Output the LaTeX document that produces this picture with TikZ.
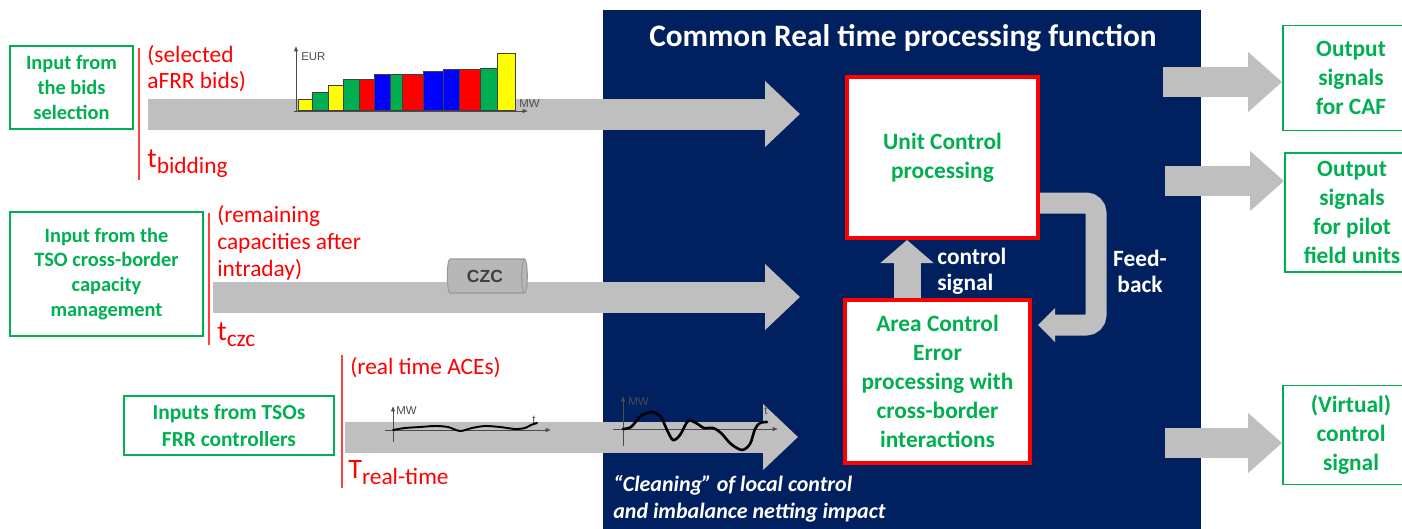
\documentclass[tikz,border=0pt]{standalone}
\usepackage{fontspec}
\setmainfont{Carlito}
\newfontfamily\arialf{Liberation Sans}
\usetikzlibrary{arrows.meta,shapes.geometric}
\definecolor{navy}{RGB}{0,32,96}
\definecolor{grn}{RGB}{0,176,80}
\definecolor{rd}{RGB}{255,0,0}
\definecolor{gry}{RGB}{191,191,191}
\definecolor{bblue}{RGB}{0,0,255}
\definecolor{bgreen}{RGB}{0,176,80}
\definecolor{byellow}{RGB}{255,255,0}
\definecolor{bred}{RGB}{255,0,0}
\begin{document}
\begin{tikzpicture}[x=0.02cm,y=-0.02cm,
  gbox/.style={draw=grn, line width=1.1pt, text=grn, align=center, inner sep=0pt,
    font=\bfseries\fontsize{11.6}{14.2}\selectfont},
  obox/.style={gbox, font=\bfseries\fontsize{13.3}{16.4}\selectfont},
  rbox/.style={draw=rd, line width=2.3pt, fill=white, text=grn, align=center, inner sep=0pt,
    font=\bfseries\fontsize{13.3}{16.4}\selectfont},
  redtxt/.style={text=rd, align=left, anchor=west, inner sep=0pt,
    font=\fontsize{13.3}{15.2}\selectfont},
  wtxt/.style={text=white, inner sep=0pt, font=\bfseries\fontsize{13.3}{14.8}\selectfont},
  bigarrow/.style={draw=gry, line width=0.62cm, -{Triangle[width=1.28cm,length=0.7cm]}},
  outarrow/.style={draw=gry, line width=0.6cm, -{Triangle[width=1.16cm,length=0.68cm]}},
  carrow/.style={draw=gry, line width=0.54cm, -{Triangle[width=1.04cm,length=0.46cm]}},
  fbarrow/.style={draw=gry, line width=0.42cm, rounded corners=0.2cm, -{Triangle[width=0.66cm,length=0.34cm]}},
  redline/.style={draw=rd!75, line width=0.9pt},
  bar/.style={draw=black!75, line width=0.3pt},
  axis/.style={draw=black!70, line width=0.4pt, -{Latex[length=3pt,width=2.5pt]}},
  tiny/.style={inner sep=0pt, text=black!70, font=\arialf\fontsize{6.5}{7}\selectfont},
  curve/.style={draw=black, line width=1.3pt, line cap=round, line join=round}
]
\useasboundingbox (0,0) rectangle (1402,528);
\clip (0,0) rectangle (1402,528);

% panel
\node[fill=navy, inner sep=0pt, minimum width=11.96cm, minimum height=10.4cm, anchor=north west] (panel) at (603,10) {};
\node[text=white, inner sep=0pt, font=\bfseries\fontsize{17.8}{20}\selectfont] (title) at (903,38) {Common Real time processing function};

% input boxes
\node[gbox, minimum width=2.46cm, minimum height=1.66cm] (in1) at (71.5,87.5) {Input from\\the bids\\selection};
\node[gbox, minimum width=3.86cm, minimum height=2.48cm] (in2) at (106.5,274) {Input from the\\TSO cross-border\\capacity\\management};
\node[gbox, minimum width=4.2cm, minimum height=1.18cm, font=\bfseries\fontsize{12.2}{15.3}\selectfont] (in3) at (229,425.5) {Inputs from TSOs\\FRR controllers};

% output boxes
\node[obox, minimum width=2.72cm, minimum height=2.1cm] (out1) at (1351,78) {Output\\signals\\for CAF};
\node[obox, minimum width=2.68cm, minimum height=2.38cm] (out2) at (1352,212.5) {Output\\signals\\for pilot\\field units};
\node[obox, minimum width=2.72cm, minimum height=1.98cm] (out3) at (1351,435) {(Virtual)\\control\\signal};

% red vertical lines
\draw[redline] (139,48) -- (139,180);
\draw[redline] (209,213) -- (209,345);
\draw[redline] (342,355) -- (342,488);

% input arrows
\coordinate (i1s) at (148,114);
\coordinate (i1e) at (800,114);
\coordinate (i2s) at (213,297);
\coordinate (i2e) at (800,297);
\coordinate (i3s) at (345,437);
\coordinate (i3e) at (798,437);
\draw[bigarrow] (i1s) -- (i1e);
\draw[bigarrow] (i2s) -- (i2e);
\draw[bigarrow] (i3s) -- (i3e);

% red labels
\node[redtxt] (r1) at (147,68.5) {(selected\\aFRR bids)};
\node[redtxt, anchor=base west] (t1) at (147,167) {{\fontsize{16}{16}\selectfont t}\raisebox{-3.5pt}{bidding}};
\node[redtxt] (r2) at (217,243) {(remaining\\capacities after\\intraday)};
\node[redtxt, anchor=base west] (t2) at (217,340) {{\fontsize{16}{16}\selectfont t}\raisebox{-3.5pt}{czc}};
\node[redtxt] (r3) at (350,368) {(real time ACEs)};
\node[redtxt, anchor=base west] (t3) at (348,478) {{\fontsize{16}{16}\selectfont T}\raisebox{-3.5pt}{real-time}};

% bar chart
\foreach \xa/\xb/\yt/\c in {298/312/99/byellow, 312/328/92/bgreen, 328/343/85/byellow, 343/359/79/bgreen,
  359/374/79/bred, 374/390/74/bblue, 390/402/74/bgreen, 402/423/74/bred, 423/443/71/bblue,
  443/459/69/bblue, 459/480/69/bred, 480/497/68/bgreen, 497/515/53/byellow}
  \draw[bar, fill=\c] (\xa,110) rectangle (\xb,\yt);
\draw[axis] (296,112) -- (296,46);
\draw[axis] (294,111) -- (528,111);
\node[tiny, anchor=west] (eur) at (301,57) {EUR};
\node[tiny, anchor=west] (mw1) at (519,104) {MW};

% CZC
\node[cylinder, shape border rotate=0, aspect=0.35, draw=black!40, line width=0.6pt, fill=gry!96!black,
  minimum height=1.6cm, minimum width=0.68cm, inner sep=1pt, text=black!75,
  font=\arialf\bfseries\fontsize{10}{12}\selectfont] (czc) at (485,276) {CZC};

% small graphs
\draw[axis] (393,442) -- (393,406);
\draw[axis] (385,430) -- (551,430);
\node[tiny, anchor=west] (mw2) at (396,411) {MW};
\node[tiny, anchor=west] (tt2) at (532,420) {t};
\draw[curve, line width=1.1pt] plot[smooth] coordinates {(393,430) (405,428) (420,427) (435,426) (448,427) (460,431) (472,428) (485,426) (500,427) (515,429) (525,428) (531,425) (537,423)};

\draw[axis] (623,446) -- (623,396);
\draw[axis] (613,429) -- (778,429);
\node[tiny, anchor=west] (mw3) at (628,402) {MW};
\node[tiny, anchor=west] (tt3) at (764,411) {t};
\draw[curve, line width=1.5pt] plot[smooth] coordinates {(623,429) (631,427) (641,416) (652,412) (661,417) (667,430) (673,440) (680,435) (688,421) (696,423) (704,428) (713,428) (721,433) (731,444) (742,450) (750,444) (755,429) (760,423) (767,422)};

% processing boxes
\node[rbox, minimum width=3.82cm, minimum height=3.22cm] (uc) at (942.5,157.5) {Unit Control\\processing};
\node[rbox, minimum width=3.7cm, minimum height=3.26cm] (ace) at (937.5,381.5) {Area Control\\Error\\processing with\\cross-border\\interactions};

% control signal arrow
\coordinate (cs) at (907,0);
\draw[carrow] (ace.north -| cs) -- (uc.south -| cs);
\node[wtxt, align=left, anchor=west] (cslab) at (937,271) {control\\signal};

% feedback arrow
\coordinate (fbt) at (0,203);
\coordinate (fbb) at (1038,325);
\draw[fbarrow] (uc.east |- fbt) -- (1096,203) -- (1096,325) -- (fbb);
\node[wtxt, align=center] (fblab) at (1140,271) {Feed-\\back};

% cleaning text
\node[text=white, inner sep=0pt, align=left, anchor=west, font=\bfseries\itshape\fontsize{12.5}{15.3}\selectfont] (clean) at (613,499) {``Cleaning'' of local control\\and imbalance netting impact};

% output arrows
\coordinate (o1s) at (1163,82);
\coordinate (o2s) at (1165,181);
\coordinate (o3s) at (1165,443);
\draw[outarrow] (o1s) -- (out1.west |- o1s);
\draw[outarrow] (o2s) -- (out2.west |- o2s);
\draw[outarrow] (o3s) -- (out3.west |- o3s);
\end{tikzpicture}
\end{document}
